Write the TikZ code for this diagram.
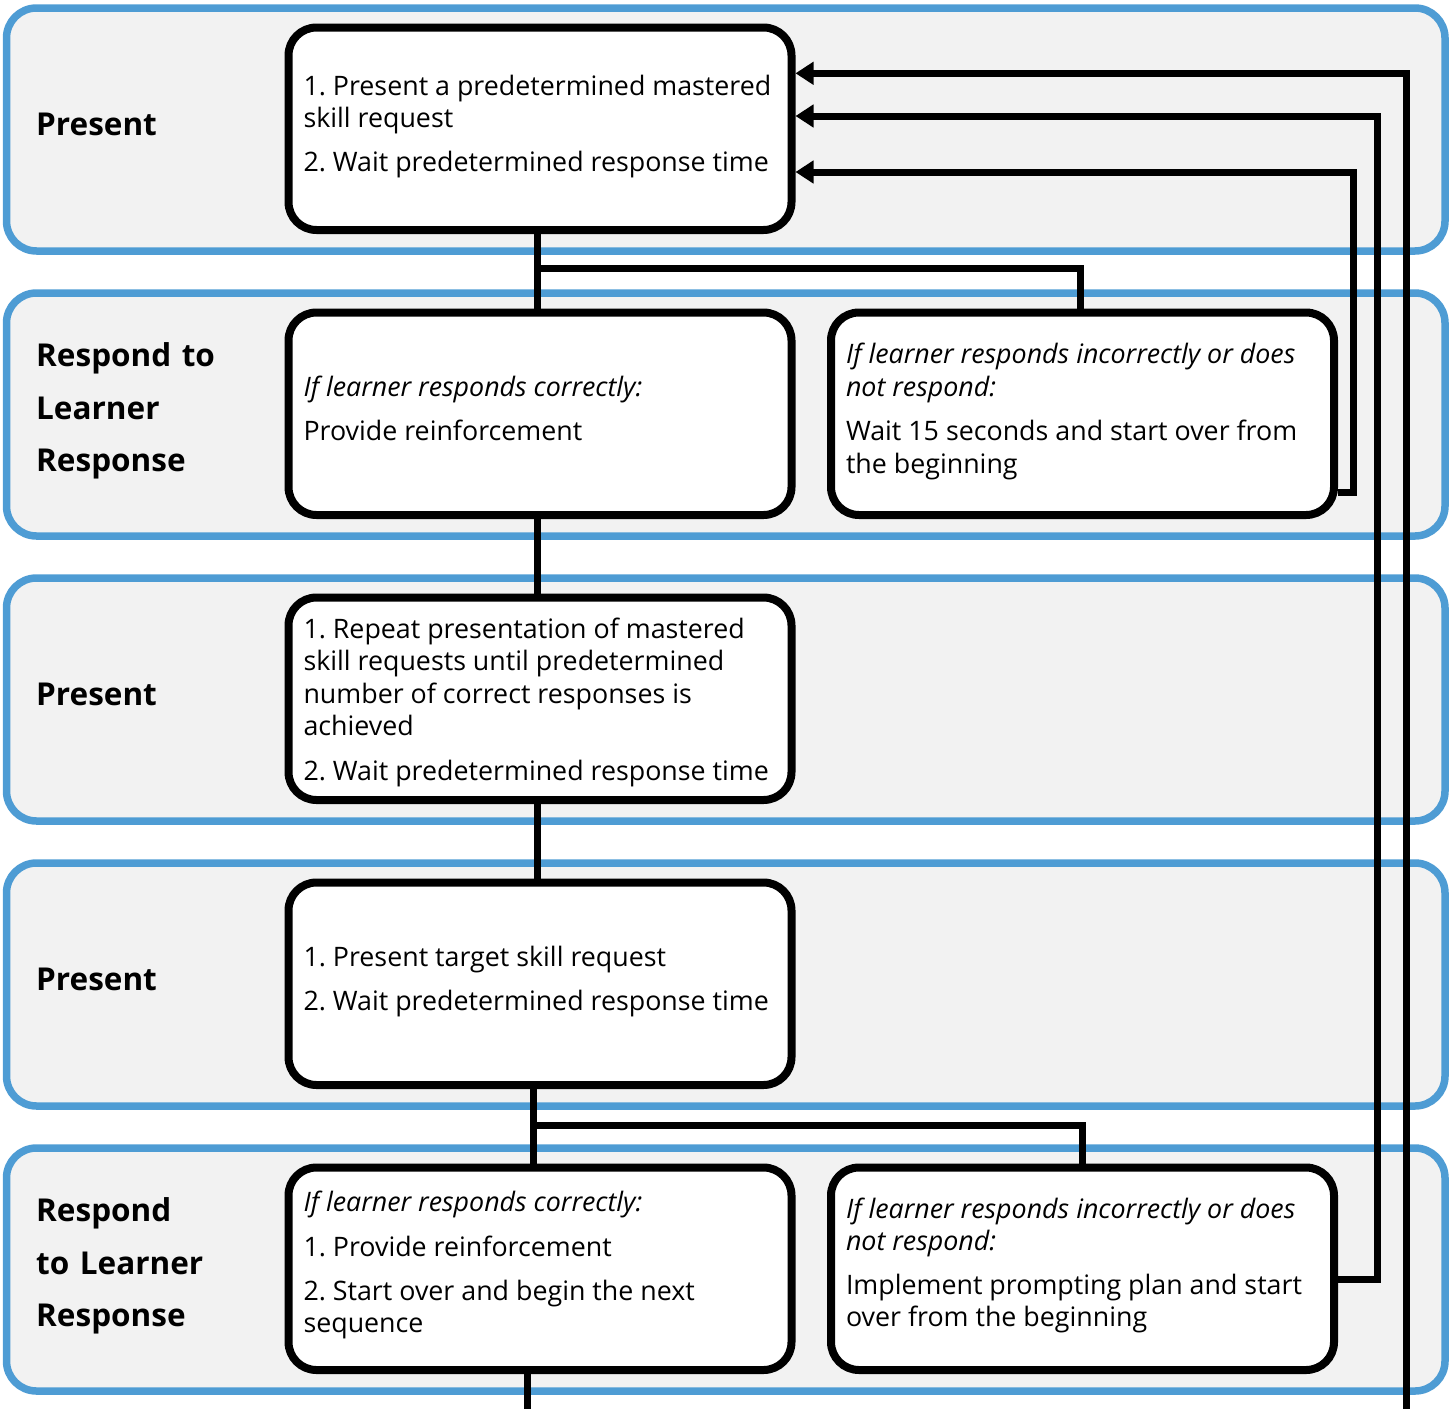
\documentclass[tikz,border=0pt]{standalone}
\usepackage{fontspec}
\setmainfont{Open Sans}
\usetikzlibrary{arrows.meta}
\definecolor{laneblue}{HTML}{4E9CD4}
\definecolor{lanefill}{HTML}{F2F2F2}
\newcommand{\boxtext}[2]{\begin{minipage}[c][202.5pt][t]{473pt}\vspace*{#1}\raggedright\frenchspacing\strut #2\end{minipage}}
\begin{document}
\begin{tikzpicture}[x=1pt,y=-1pt,
  lane/.style={draw=laneblue, line width=7.5pt, fill=lanefill, rounded corners=30pt,
    minimum width=1438.5pt, minimum height=243pt, inner sep=0pt},
  stepbox/.style={draw=black, line width=8pt, fill=white, rounded corners=28pt,
    minimum width=503pt, minimum height=202.5pt, inner sep=0pt,
    font=\fontsize{26.8}{32.5}\selectfont},
  lbl/.style={anchor=north west, inner sep=0pt, text width=260pt, align=left,
    font=\fontsize{31.5}{52.5}\selectfont\bfseries},
  conn/.style={draw=black, line width=7pt},
  arr/.style={conn, -{Triangle[length=18pt,width=22pt]}}]

\useasboundingbox (0,0) rectangle (1450,1408);

% lanes
\node[lane] (lane1) at (725.75,129.5) {};
\node[lane] (lane2) at (725.75,414.5) {};
\node[lane] (lane3) at (725.75,699.5) {};
\node[lane] (lane4) at (725.75,984.5) {};
\node[lane] (lane5) at (725.75,1269.5) {};

% lane labels
\node[lbl] (l1) at (36,98.25) {\strut Present};
\node[lbl] (l2) at (36,329.95) {\strut Respond to\\Learner\\Response};
\node[lbl] (l3) at (36,668.25) {\strut Present};
\node[lbl] (l4) at (36,953.25) {\strut Present};
\node[lbl] (l5) at (36,1184.95) {\strut Respond\\to Learner\\Response};

% boxes
\node[stepbox] (b1) at (540,128.75) {\boxtext{44.75pt}{1. Present a predetermined mastered\\
skill request\\[11.5pt]
2. Wait predetermined response time}};
\node[stepbox] (b2a) at (540,413.75) {\boxtext{61.45pt}{\textit{If learner responds correctly:}\\[11pt]
Provide reinforcement}};
\node[stepbox] (b2b) at (1082.5,413.75) {\boxtext{28.25pt}{\textit{If learner responds incorrectly or does}\\
\textit{not respond:}\\[12pt]
Wait 15 seconds and start over from\\
the beginning}};
\node[stepbox] (b3) at (540,698.75) {\boxtext{18.05pt}{1. Repeat presentation of mastered\\
skill requests until predetermined\\
number of correct responses is\\
achieved\\[12pt]
2. Wait predetermined response time}};
\node[stepbox] (b4) at (540,983.75) {\boxtext{61.45pt}{1. Present target skill request\\[11pt]
2. Wait predetermined response time}};
\node[stepbox] (b5a) at (540,1268.75) {\boxtext{21.45pt}{\textit{If learner responds correctly:}\\[12.5pt]
1. Provide reinforcement\\[11pt]
2. Start over and begin the next\\
sequence}};
\node[stepbox] (b5b) at (1082.5,1268.75) {\boxtext{27.75pt}{\textit{If learner responds incorrectly or does}\\
\textit{not respond:}\\[11pt]
Implement prompting plan and start\\
over from the beginning}};

% vertical flow
\draw[conn] ([xshift=-3pt]b1.south) -- ([xshift=-3pt]b2a.north);
\coordinate (j1) at (537,268);
\draw[conn] (j1) -| ([xshift=-2.5pt]b2b.north);
\draw[conn] ([xshift=-3pt]b2a.south) -- ([xshift=-3pt]b3.north);
\draw[conn] ([xshift=-3pt]b3.south) -- ([xshift=-3pt]b4.north);
\draw[conn] ([xshift=-7pt]b4.south) -- ([xshift=-7pt]b5a.north);
\coordinate (j2) at (533,1125);
\draw[conn] (j2) -| ([xshift=-0.5pt]b5b.north);
\coordinate (out1) at (527,1412);
\draw[conn] ([xshift=-13pt]b5a.south) -- (out1);

% return arrows
\coordinate (r1) at (1353,172);
\draw[arr] ([yshift=-78.75pt]b2b.east) -| (r1) -- (r1 -| b1.east);
\coordinate (r2) at (1377,116);
\draw[arr] ([yshift=-10.5pt]b5b.east) -| (r2) -- (r2 -| b1.east);
\coordinate (r3) at (1406,73.3);
\coordinate (in3) at (1406,1412);
\draw[arr] (in3) -- (r3) -- (r3 -| b1.east);
\end{tikzpicture}
\end{document}
